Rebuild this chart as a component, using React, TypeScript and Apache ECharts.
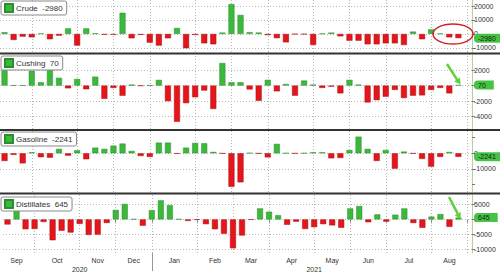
import React, { useEffect, useRef } from 'react';
import * as echarts from 'echarts';

// Weekly categories (week ending Friday); the last one is an empty slot.
const weeks = [
  '2020-09-11', '2020-09-18', '2020-09-25',
  '2020-10-02', '2020-10-09', '2020-10-16', '2020-10-23', '2020-10-30',
  '2020-11-06', '2020-11-13', '2020-11-20', '2020-11-27',
  '2020-12-04', '2020-12-11', '2020-12-18', '2020-12-25',
  '2021-01-01', '2021-01-08', '2021-01-15', '2021-01-22', '2021-01-29',
  '2021-02-05', '2021-02-12', '2021-02-19', '2021-02-26',
  '2021-03-05', '2021-03-12', '2021-03-19', '2021-03-26',
  '2021-04-02', '2021-04-09', '2021-04-16', '2021-04-23', '2021-04-30',
  '2021-05-07', '2021-05-14', '2021-05-21', '2021-05-28',
  '2021-06-04', '2021-06-11', '2021-06-18', '2021-06-25',
  '2021-07-02', '2021-07-09', '2021-07-16', '2021-07-23', '2021-07-30',
  '2021-08-06', '2021-08-13', '2021-08-20', '2021-08-27',
  '2021-09-03',
];

const crude = [
  1200, -4300, -1900, -2400, 300, -3800, -1200, 4000, -8300, 4000,
  500, -500, -500, 15200, -3100, -600, -6200, -8300, -3100, 4300,
  -10200, -700, -6700, -7400, 1000, 21400, 13600, 1300, 1000, -800,
  -3000, -6000, -200, -200, -7900, 300, 1000, -1700, -4800, -4800,
  -7400, -7400, -6700, -6700, -7900, 1700, -3800, 3300, 300, -2400,
  -2980,
];
const cushing = [
  2000, 30, 30, 1900, 430, 2850, 1000, -350, 850, -470,
  1150, -1700, -300, -1300, 130, -30, 30, 730, -2000, -4650,
  -2260, -1500, -640, -3000, 2900, 430, 430, -500, -1950, 740,
  -740, 200, -1300, 650, 130, -300, -130, -1000, 740, 130,
  -2170, -1870, -1430, -560, -1600, -1300, -1260, -560, -300, -1000,
  70,
];
const gasoline = [
  -4900, -1000, -6400, 600, -2500, -2800, 2800, -1500, 1900, -3800,
  3600, 2800, 4900, 6200, 1500, -1700, -2300, 6800, 6800, -200,
  3600, 6600, 6400, 850, -100, -21300, -18500, 200, -100, -2600,
  6000, 100, -100, 100, 600, 600, -3200, -3000, 2100, 10600,
  2800, -4900, 2100, -9800, 1100, -100, -3600, -8500, -2300, 850,
  -2241,
];
const distillates = [
  -1700, 2900, -3300, -3200, -850, -7000, -3800, -4400, -1500, -5200,
  -5100, -1200, 3200, 5200, 100, -2100, 3100, 6400, 4800, 100,
  -500, -100, -1600, -3300, -4800, -9700, -5400, -100, 3700, 2600,
  1400, -1800, -750, -3200, -2600, -1600, -2000, -2800, 3700, 4500,
  -950, 1700, -750, 1600, 3700, -1200, -2800, 950, 1800, -2500,
  645,
];

const crudeTicks = [20000, 10000, 0, -10000];
const cushingTicks = [2000, 0, -2000, -4000];
const gasolineTicks = [0, -10000];
const distillatesTicks = [5000, 0, -5000, -10000];

const monthNames = ['Jan', 'Feb', 'Mar', 'Apr', 'May', 'Jun', 'Jul', 'Aug', 'Sep', 'Oct', 'Nov', 'Dec'];

const GREEN = '#3cb83c';
const GREEN_DARK = '#2a8f2a';
const RED = '#e5161b';
const RED_DARK = '#a80f12';
const FONT = "'Liberation Sans', Arial, sans-serif";

const panels = [
  { name: 'Crude', values: crude, ticks: crudeTicks, top: 0, height: 52, min: -12900, max: 24300, legendTop: 1 },
  { name: 'Cushing', values: cushing, ticks: cushingTicks, top: 55, height: 74, min: -5580, max: 3930, legendTop: 56 },
  { name: 'Gasoline', values: gasoline, ticks: gasolineTicks, top: 131, height: 61, min: -24650, max: 14200, legendTop: 132 },
  { name: 'Distillates', values: distillates, ticks: distillatesTicks, top: 195, height: 61, min: -11270, max: 8200, legendTop: 197 },
];

export default function App() {
  const ref = useRef<HTMLDivElement>(null);

  useEffect(() => {
    if (!ref.current) return;
    const chart = echarts.init(ref.current, undefined, { renderer: 'svg' });

    const monthStarts: number[] = [];
    for (let i = 1; i < weeks.length; i++) {
      if (weeks[i].slice(5, 7) !== weeks[i - 1].slice(5, 7)) monthStarts.push(i);
    }

    // half-week label axis: point k sits at k/2 weeks from the left edge
    const K = weeks.length * 2;
    const labelData: string[] = new Array(K + 1).fill('');
    const bounds = [0, ...monthStarts.map((i) => 2 * i + 1), K];
    const groupStarts = [0, ...monthStarts];
    for (let g = 0; g < bounds.length - 1; g++) {
      const a = bounds[g];
      const b = bounds[g + 1];
      if (b - a < 4) continue;
      const m = parseInt(weeks[groupStarts[g]].slice(5, 7), 10) - 1;
      labelData[Math.floor((a + b) / 2)] = monthNames[m];
    }
    const yearStart = monthStarts.find((i) => weeks[i].slice(0, 4) !== weeks[0].slice(0, 4)) as number;
    const yb = 2 * yearStart + 1;
    labelData[Math.round(yb / 2)] = '\n' + weeks[0].slice(0, 4);
    labelData[Math.round((yb + K) / 2)] = '\n' + weeks[yearStart].slice(0, 4);

    const grids = panels.map((p) => ({ left: 0, right: 28, top: p.top, height: p.height }));

    const xAxes: any[] = panels.map((p, i) => ({
      type: 'category',
      gridIndex: i,
      data: weeks,
      boundaryGap: true,
      axisLine: { show: false },
      axisLabel: { show: false },
      axisTick:
        i === 3
          ? {
              show: true,
              alignWithLabel: true,
              interval: (idx: number) => monthStarts.includes(idx),
              length: 4,
              lineStyle: { color: '#888' },
            }
          : { show: false },
      splitLine: { show: false },
    }));
    xAxes.push({
      type: 'category',
      gridIndex: 3,
      data: labelData,
      boundaryGap: false,
      position: 'bottom',
      axisLine: { show: false },
      axisTick: {
        show: true,
        interval: (idx: number) => idx === yb,
        length: 18,
        lineStyle: { color: '#999' },
      },
      axisLabel: { interval: 0, fontSize: 7, color: '#333', margin: 3, lineHeight: 9, fontFamily: FONT },
      splitLine: { show: false },
    });

    const yAxes = panels.map((p, i) => ({
      type: 'value',
      gridIndex: i,
      position: 'right',
      min: p.min,
      max: p.max,
      splitNumber: 4,
      axisLine: { show: true, lineStyle: { color: '#b2d2a6' } },
      axisTick: { show: true, length: 3, lineStyle: { color: '#777' } },
      axisLabel: {
        fontSize: 7,
        color: '#333',
        margin: 2,
        fontFamily: FONT,
        showMinLabel: false,
        showMaxLabel: false,
        formatter: (v: number) => (p.ticks.includes(v) ? String(v) : ''),
      },
      splitLine: { show: false },
    }));

    const series = panels.map((p, i) => {
      const last = p.values[p.values.length - 1];
      return {
        type: 'bar',
        name: p.name,
        xAxisIndex: i,
        yAxisIndex: i,
        barWidth: 6,
        itemStyle: { color: GREEN, borderColor: GREEN_DARK, borderWidth: 0.5 },
        data: p.values.map((v) =>
          v < 0 ? { value: v, itemStyle: { color: RED, borderColor: RED_DARK, borderWidth: 0.5 } } : { value: v }
        ),
        markLine: {
          silent: true,
          symbol: 'none',
          z: 1,
          label: { show: false },
          lineStyle: { color: '#b8b8b8', type: [1, 2], width: 1 },
          data: [
            ...monthStarts.map((idx) => ({ xAxis: weeks[idx] })),
            ...p.ticks.map((v) => ({ yAxis: v })),
            {
              yAxis: last,
              lineStyle: { color: 'transparent', width: 0 },
              label: {
                show: true,
                position: 'end',
                distance: 2,
                formatter: String(last),
                fontSize: 7,
                fontFamily: FONT,
                color: '#1a1a1a',
                backgroundColor: '#45c345',
                padding: [1, 8, 1, 4],
                borderRadius: [4, 0, 0, 4],
              },
            },
          ],
        },
      };
    });

    const legends = panels.map((p) => {
      const last = p.values[p.values.length - 1];
      return {
        show: true,
        data: [{ name: p.name, itemStyle: { color: GREEN } }],
        left: 1,
        top: p.legendTop,
        icon: 'rect',
        itemWidth: 8,
        itemHeight: 8,
        itemGap: 4,
        padding: [2, 4, 2, 3],
        backgroundColor: '#ffffff',
        borderColor: '#8a8a8a',
        borderWidth: 1,
        borderRadius: 2,
        selectedMode: false,
        textStyle: { fontSize: 8, color: '#333', fontFamily: FONT, padding: [0, 0, 0, -2] },
        formatter: (name: string) => `${name}\u00a0 ${last}`,
        z: 10,
      };
    });

    const graphic = [
      { type: 'rect', shape: { x: 0, y: 52.5, width: 500, height: 2 }, style: { fill: '#333' }, z: 20 },
      { type: 'rect', shape: { x: 0, y: 129, width: 500, height: 2 }, style: { fill: '#333' }, z: 20 },
      { type: 'rect', shape: { x: 0, y: 192.5, width: 500, height: 2 }, style: { fill: '#333' }, z: 20 },
      {
        type: 'ellipse',
        shape: { cx: 453, cy: 34, rx: 20, ry: 10 },
        style: { fill: 'none', stroke: '#d42222', lineWidth: 1.5 },
        z: 20,
      },
      {
        type: 'polyline',
        shape: { points: [[447, 64], [457.1, 79.6]] },
        style: { stroke: '#5fcf3c', lineWidth: 2.5, fill: 'none' },
        z: 20,
      },
      {
        type: 'polygon',
        shape: { points: [[460.5, 84.5], [454.2, 81.6], [460.0, 77.6]] },
        style: { fill: '#5fcf3c' },
        z: 20,
      },
      {
        type: 'polyline',
        shape: { points: [[449, 197], [457.7, 213.7]] },
        style: { stroke: '#5fcf3c', lineWidth: 2.5, fill: 'none' },
        z: 20,
      },
      {
        type: 'polygon',
        shape: { points: [[460.5, 219], [454.6, 215.3], [460.8, 212.1]] },
        style: { fill: '#5fcf3c' },
        z: 20,
      },
    ];

    chart.setOption({
      animation: false,
      backgroundColor: '#ffffff',
      textStyle: { fontFamily: FONT },
      grid: grids,
      xAxis: xAxes,
      yAxis: yAxes,
      legend: legends,
      series,
      graphic,
    });

    return () => {
      chart.dispose();
    };
  }, []);

  return (
    <div
      ref={ref}
      style={{ position: 'fixed', left: 0, top: 0, width: 500, height: 274, background: '#fff' }}
    />
  );
}
